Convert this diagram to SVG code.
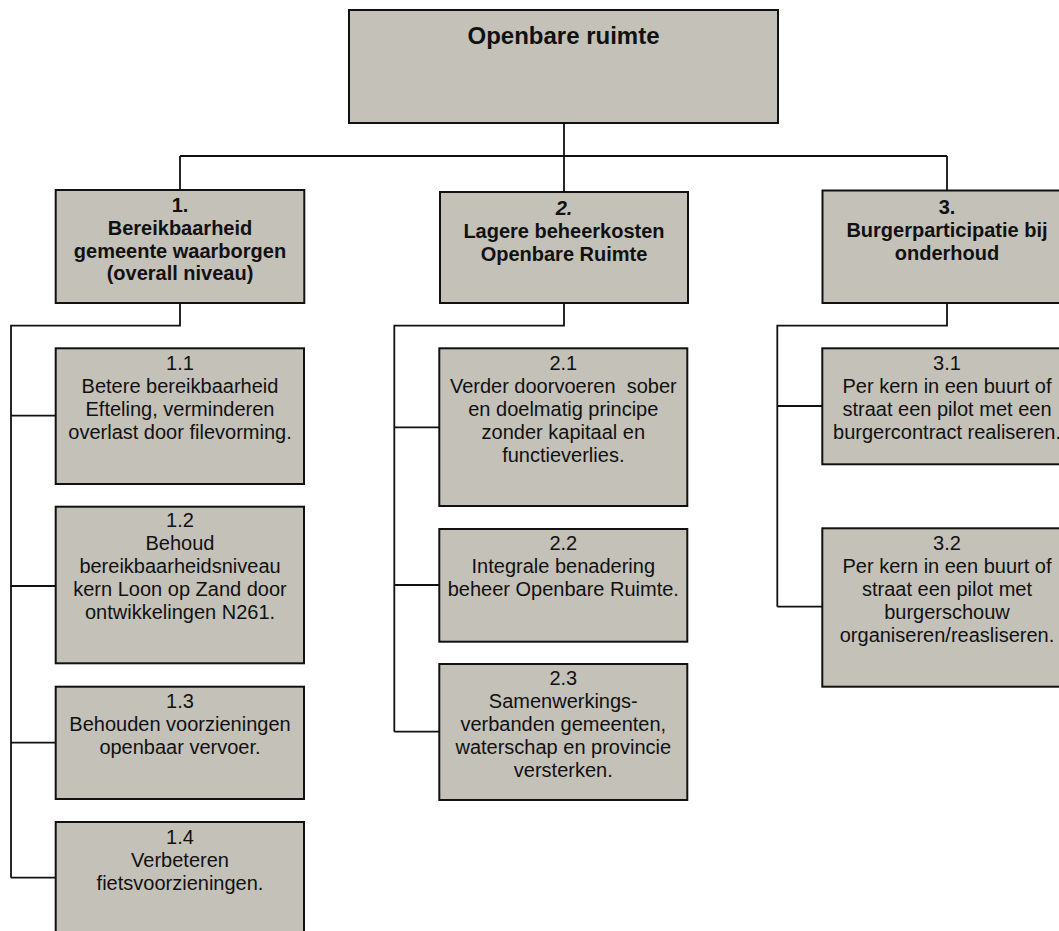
<svg xmlns="http://www.w3.org/2000/svg" width="1059" height="931" viewBox="0 0 1059 931">
<style>
.box{fill:#c4c1b9;stroke:#111;stroke-width:2}
.ln{fill:none;stroke:#111;stroke-width:1.8}
text{font-family:"Liberation Sans",Arial,sans-serif;fill:#111;text-anchor:middle}
.t{font-size:20px}
.h{font-size:20px;font-weight:bold}
.r{font-size:24px;font-weight:bold}
</style>
<rect width="1059" height="931" fill="#fff"/>
<g id="connectors">
<path class="ln" d="M564,123 V156 M180,156 H947 M180,156 V190 M564,156 V192 M947,156 V191"/>
<path class="ln" d="M180,303 V325.7 H11 V877.7 M11,415.7 H56 M11,586 H56 M11,742.7 H56 M11,877.7 H56"/>
<path class="ln" d="M564,303 V325.7 H394.3 V731.7 M394.3,427.3 H440 M394.3,585 H440 M394.3,731.7 H440"/>
<path class="ln" d="M947,303 V325.7 H777.3 V606.7 M777.3,406 H822 M777.3,606.7 H822"/>
</g>
<g id="root">
<rect class="box" x="349" y="10" width="429" height="113"/>
<text class="r" x="563.5" y="44">Openbare ruimte</text>
</g>
<g id="n1">
<rect class="box" x="55.7" y="190" width="248.6" height="113"/>
<text class="h" x="180" y="212">1.</text>
<text class="h" x="180" y="235">Bereikbaarheid</text>
<text class="h" x="180" y="257.5">gemeente waarborgen</text>
<text class="h" x="180" y="280">(overall niveau)</text>
</g>
<g id="n2">
<rect class="box" x="440" y="192" width="248" height="111"/>
<text class="h" x="564" y="215" font-style="italic">2.</text>
<text class="h" x="564" y="238">Lagere beheerkosten</text>
<text class="h" x="564" y="261">Openbare Ruimte</text>
</g>
<g id="n3">
<rect class="box" x="822.5" y="190.5" width="249" height="112.5"/>
<text class="h" x="947" y="214">3.</text>
<text class="h" x="947" y="237">Burgerparticipatie bij</text>
<text class="h" x="947" y="260">onderhoud</text>
</g>
<g id="n1_1">
<rect class="box" x="55.7" y="348.3" width="248.3" height="135.7"/>
<text class="t" x="180" y="369.5">1.1</text>
<text class="t" x="180" y="392.5">Betere bereikbaarheid</text>
<text class="t" x="180" y="415.5">Efteling, verminderen</text>
<text class="t" x="180" y="438.5">overlast door filevorming.</text>
</g>
<g id="n1_2">
<rect class="box" x="55.7" y="506.7" width="248.3" height="156.6"/>
<text class="t" x="180" y="527">1.2</text>
<text class="t" x="180" y="550">Behoud</text>
<text class="t" x="180" y="573">bereikbaarheidsniveau</text>
<text class="t" x="180" y="596">kern Loon op Zand door</text>
<text class="t" x="180" y="619">ontwikkelingen N261.</text>
</g>
<g id="n1_3">
<rect class="box" x="55.7" y="686.7" width="248.3" height="112.3"/>
<text class="t" x="180" y="708">1.3</text>
<text class="t" x="180" y="731">Behouden voorzieningen</text>
<text class="t" x="180" y="754">openbaar vervoer.</text>
</g>
<g id="n1_4">
<rect class="box" x="55.7" y="822" width="248.3" height="135"/>
<text class="t" x="180" y="843.5">1.4</text>
<text class="t" x="180" y="866.5">Verbeteren</text>
<text class="t" x="180" y="889.5">fietsvoorzieningen.</text>
</g>
<g id="n2_1">
<rect class="box" x="439.3" y="348.3" width="248" height="157.7"/>
<text class="t" x="563.3" y="370">2.1</text>
<text class="t" x="563.3" y="393" style="white-space:pre">Verder doorvoeren  sober</text>
<text class="t" x="563.3" y="416">en doelmatig principe</text>
<text class="t" x="563.3" y="439">zonder kapitaal en</text>
<text class="t" x="563.3" y="462">functieverlies.</text>
</g>
<g id="n2_2">
<rect class="box" x="439.3" y="529" width="248" height="112.7"/>
<text class="t" x="563.3" y="550">2.2</text>
<text class="t" x="563.3" y="573">Integrale benadering</text>
<text class="t" x="563.3" y="596">beheer Openbare Ruimte.</text>
</g>
<g id="n2_3">
<rect class="box" x="439.3" y="664" width="248" height="136"/>
<text class="t" x="563.3" y="685">2.3</text>
<text class="t" x="563.3" y="708">Samenwerkings-</text>
<text class="t" x="563.3" y="731">verbanden gemeenten,</text>
<text class="t" x="563.3" y="754">waterschap en provincie</text>
<text class="t" x="563.3" y="777">versterken.</text>
</g>
<g id="n3_1">
<rect class="box" x="822.3" y="348.3" width="249" height="116"/>
<text class="t" x="947" y="370">3.1</text>
<text class="t" x="947" y="393">Per kern in een buurt of</text>
<text class="t" x="947" y="416">straat een pilot met een</text>
<text class="t" x="947" y="438.5">burgercontract realiseren.</text>
</g>
<g id="n3_2">
<rect class="box" x="822.3" y="528.3" width="249" height="158.4"/>
<text class="t" x="947" y="550">3.2</text>
<text class="t" x="947" y="573">Per kern in een buurt of</text>
<text class="t" x="947" y="596">straat een pilot met</text>
<text class="t" x="947" y="619">burgerschouw</text>
<text class="t" x="947" y="642">organiseren/reasliseren.</text>
</g>
</svg>
